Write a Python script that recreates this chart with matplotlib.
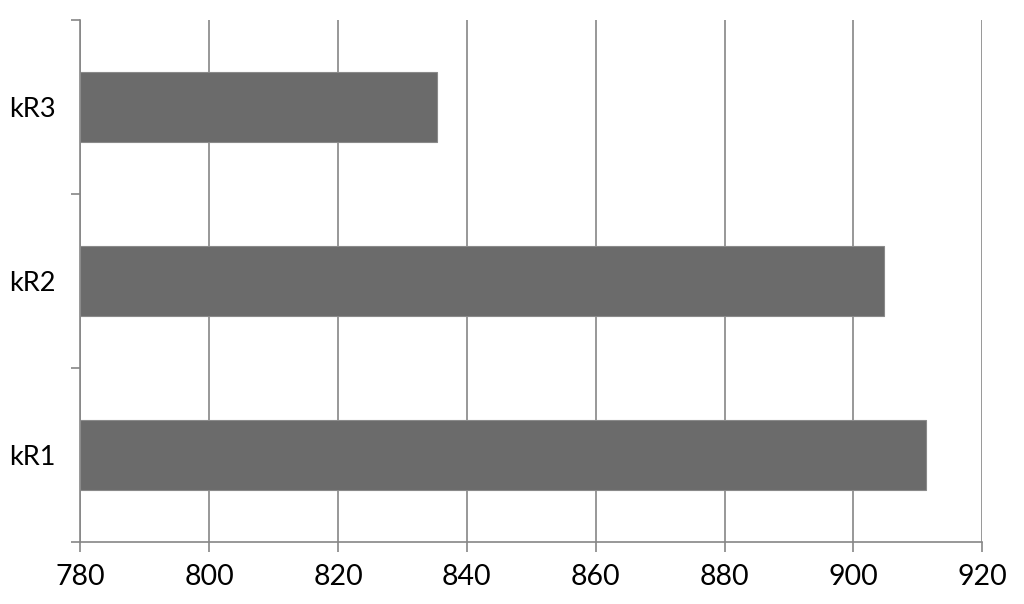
import matplotlib
matplotlib.use("Agg")
import matplotlib.pyplot as plt
import numpy as np

# Data.
categories = ["kR1", "kR2", "kR3"]
values = [911.2, 904.7, 835.3]
x_ticks = [780, 800, 820, 840, 860, 880, 900, 920]

plt.rcParams['font.family'] = ['Lato', 'DejaVu Sans']

fig = plt.figure(figsize=(10.24, 6.04), dpi=100)
ax = fig.add_axes([80.3 / 1024, (604 - 541.7) / 604, 902 / 1024, 521.7 / 604])

line_color = "#868686"
y = np.arange(len(categories))
base = x_ticks[0]
ax.barh(y, np.array(values) - base, left=base, height=0.4,
        color="#6b6b6b", edgecolor="#8a8a8a", linewidth=0.8, zorder=3)

ax.set_xlim(x_ticks[0], x_ticks[-1])
ax.set_ylim(-0.5, len(categories) - 0.5)
ax.set_xticks(x_ticks)
ax.set_xticklabels([str(t) for t in x_ticks])
ax.grid(axis="x", color=line_color, linewidth=1.2, zorder=0)

# Category labels sit between the boundary ticks.
ax.set_yticks(np.arange(len(categories) + 1) - 0.5)
ax.set_yticklabels([])
ax.set_yticks(y, minor=True)
ax.set_yticklabels(categories, minor=True)

for side in ["top", "right"]:
    ax.spines[side].set_visible(False)
for side in ["left", "bottom"]:
    ax.spines[side].set_color(line_color)
    ax.spines[side].set_linewidth(1.2)

ax.tick_params(axis="x", length=7.2, width=1.2, color=line_color,
               labelsize=20.5, pad=9, labelcolor="black")
ax.tick_params(axis="y", which="major", length=6.5, width=1.2, color=line_color)
ax.tick_params(axis="y", which="minor", length=0, labelsize=19.5, pad=18,
               labelcolor="black")

fig.savefig("out.png", dpi=100)
